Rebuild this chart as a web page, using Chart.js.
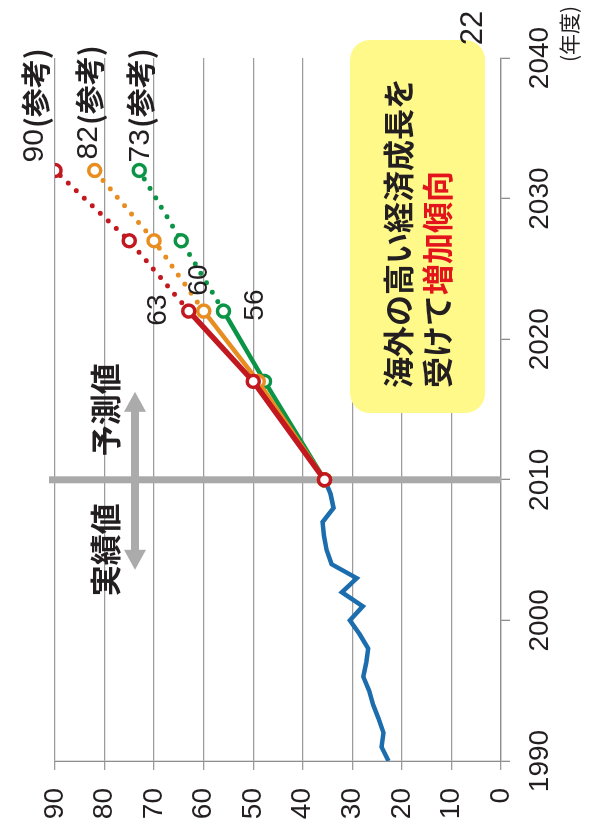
<!DOCTYPE html>
<html lang="ja">
<head>
<meta charset="UTF-8" />
<title>需要の推移と予測</title>
<script src="https://cdn.jsdelivr.net/npm/chart.js"></script>
<style>
  * { margin: 0; padding: 0; box-sizing: border-box; }
  html, body { width: 589px; height: 821px; overflow: hidden; background: #fff; }
  /* chart is laid out landscape, then turned a quarter to read bottom-to-top */
  .turn {
    position: absolute; left: 0; top: 0;
    width: 821px; height: 589px;
    transform-origin: 0 0;
    transform: translate(0, 821px) rotate(-90deg);
  }
</style>
</head>
<body>
<div class="turn"><canvas id="chart" width="821" height="589"></canvas></div>
<script>
// actual results, fiscal years
const years = [1990, 1991, 1992, 1993, 1994, 1995, 1996, 1997, 1998, 1999, 2000,
               2001, 2002, 2003, 2004, 2005, 2006, 2007, 2008, 2009, 2010];
const actual = [22.7, 24.1, 23.7, 24.7, 25.8, 26.6, 27.8, 27.2, 26.8, 28.5, 30.5,
                27.9, 32.1, 29.1, 34.2, 35.2, 35.7, 36.0, 33.8, 34.4, 35.6];

// forecast cases (2027 onward = reference values)
const forecastYears = [2010, 2017, 2022, 2027, 2032];
const caseHigh = [35.6, 50, 63, 75, 90];
const caseMid  = [35.6, 49, 60, 70, 82];
const caseLow  = [35.6, 47.7, 56, 64.5, 73];

const yearTicks = [1990, 2000, 2010, 2020, 2030, 2040];
const valueTicks = [0, 10, 20, 30, 40, 50, 60, 70, 80, 90];

const RED = '#c2181f', ORANGE = '#e88d1f', GREEN = '#0c9446', BLUE = '#1c6dae';
const INK = '#231f20';
const LATIN = "'Liberation Sans', Arial, sans-serif";
const JP = "'Noto Sans CJK JP', sans-serif";

const toXY = (xs, ys) => xs.map((x, i) => ({ x, y: ys[i] }));

function forecastSet(label, values, color, width) {
  return {
    label,
    data: toXY(forecastYears, values),
    borderColor: color,
    borderWidth: width,
    borderCapStyle: 'round',
    pointRadius: 6,
    pointBorderWidth: 3.5,
    pointBackgroundColor: '#fff',
    pointBorderColor: color,
    segment: {
      borderDash: ctx => ctx.p0.parsed.x >= 2022 ? [0, 11] : undefined,
      borderWidth: ctx => ctx.p0.parsed.x >= 2022 ? 5 : undefined
    }
  };
}

// labels beside selected points: offsets in canvas px (u along years, v down)
const pointLabels = [
  { ds: 0, i: 2, du: 1,  dv: -31 },
  { ds: 1, i: 2, du: 31, dv: -4 },
  { ds: 2, i: 2, du: 6,  dv: 32 },
  { ds: 0, i: 4, du: 8,  dv: -20, note: '(参考)' },
  { ds: 1, i: 4, du: 11, dv: -6,  note: '(参考)' },
  { ds: 2, i: 4, du: 8,  dv: 1,   note: '(参考)' }
];

const decorations = {
  id: 'decorations',
  beforeDatasetsDraw(chart) {
    const { ctx, chartArea: a, scales } = chart;
    const sep = scales.x.getPixelForValue(2010);
    ctx.save();

    // note box
    ctx.fillStyle = '#fff98a';
    ctx.beginPath();
    ctx.roundRect(408, 350, 373, 135, 20);
    ctx.fill();
    ctx.textBaseline = 'middle';
    ctx.textAlign = 'left';
    ctx.font = `bold 31px ${JP}`;
    ctx.fillStyle = INK;
    ctx.fillText('海外の高い経済成長を', 433, 398);
    ctx.fillText('受けて', 433, 437);
    const w = ctx.measureText('受けて').width;
    ctx.fillStyle = '#e3141b';
    ctx.fillText('増加傾向', 433 + w, 437);

    // actual / forecast divider
    ctx.strokeStyle = '#a9a9a9';
    ctx.lineWidth = 7;
    ctx.beginPath();
    ctx.moveTo(sep, a.top - 6);
    ctx.lineTo(sep, a.bottom);
    ctx.stroke();

    // double-headed arrow
    const v = a.top + 80, u0 = sep - 90, u1 = sep + 88, head = 20, hw = 11;
    ctx.fillStyle = '#ababab';
    ctx.fillRect(u0 + head - 1, v - 4, (u1 - u0) - 2 * head + 2, 8);
    ctx.beginPath();
    ctx.moveTo(u0, v); ctx.lineTo(u0 + head, v - hw); ctx.lineTo(u0 + head, v + hw);
    ctx.closePath(); ctx.fill();
    ctx.beginPath();
    ctx.moveTo(u1, v); ctx.lineTo(u1 - head, v - hw); ctx.lineTo(u1 - head, v + hw);
    ctx.closePath(); ctx.fill();

    ctx.fillStyle = INK;
    ctx.textAlign = 'center';
    ctx.font = `bold 31px ${JP}`;
    ctx.fillText('予測値', sep + 70, a.top + 50);
    ctx.fillText('実績値', sep - 70, a.top + 50);
    ctx.restore();
  },
  afterDatasetsDraw(chart) {
    const { ctx } = chart;
    ctx.save();
    ctx.textBaseline = 'middle';
    ctx.fillStyle = INK;
    pointLabels.forEach(l => {
      const pt = chart.getDatasetMeta(l.ds).data[l.i];
      const value = chart.data.datasets[l.ds].data[l.i].y;
      const u = pt.x + l.du, v = pt.y + l.dv;
      if (!l.note) {
        ctx.font = `28px ${LATIN}`;
        ctx.textAlign = 'center';
        ctx.fillText(String(value), u, v);
        return;
      }
      ctx.font = `30px ${LATIN}`;
      ctx.textAlign = 'left';
      ctx.fillText(String(value), u, v);
      const w = ctx.measureText(String(value)).width;
      ctx.font = `bold 29px ${JP}`;
      ctx.fillText(l.note, u + w + 1, v + 1);
    });

    ctx.textAlign = 'center';
    ctx.font = `31px ${LATIN}`;
    ctx.fillText('22', 793, 473);
    ctx.font = `21px ${JP}`;
    ctx.fillText('(年度)', 787, 569);
    ctx.restore();
  }
};

new Chart(document.getElementById('chart'), {
  type: 'line',
  data: {
    datasets: [
      forecastSet('高位', caseHigh, RED, 5.5),
      forecastSet('中位', caseMid, ORANGE, 4.5),
      forecastSet('低位', caseLow, GREEN, 4.5),
      {
        label: '実績',
        data: toXY(years, actual),
        borderColor: BLUE,
        borderWidth: 4.5,
        pointRadius: 0
      }
    ]
  },
  options: {
    responsive: false,
    devicePixelRatio: 1,
    animation: false,
    layout: { padding: { top: 55, right: 58, left: 0, bottom: 0 } },
    plugins: { legend: { display: false }, tooltip: { enabled: false } },
    scales: {
      x: {
        type: 'linear',
        min: 1990, max: 2040,
        afterBuildTicks: s => { s.ticks = yearTicks.map(value => ({ value })); },
        afterFit: s => { s.height = 88; },
        ticks: { font: { family: LATIN, size: 28 }, color: INK, padding: 13, maxRotation: 0,
                 callback: v => String(v) },
        grid: { drawOnChartArea: false, tickLength: 9, color: '#8e8e8e', lineWidth: 1.3 },
        border: { display: true, color: '#8e8e8e', width: 1.3 }
      },
      y: {
        min: 0, max: 90,
        afterBuildTicks: s => { s.ticks = valueTicks.map(value => ({ value })); },
        afterFit: s => { s.width = 60; },
        ticks: { font: { family: LATIN, size: 28 }, color: INK, padding: 18,
                 callback: v => String(v) },
        grid: { color: '#9c9c9c', lineWidth: 1.3, tickLength: 9 },
        border: { display: true, color: '#8e8e8e', width: 1.3 }
      }
    }
  },
  plugins: [decorations]
});
</script>
</body>
</html>
